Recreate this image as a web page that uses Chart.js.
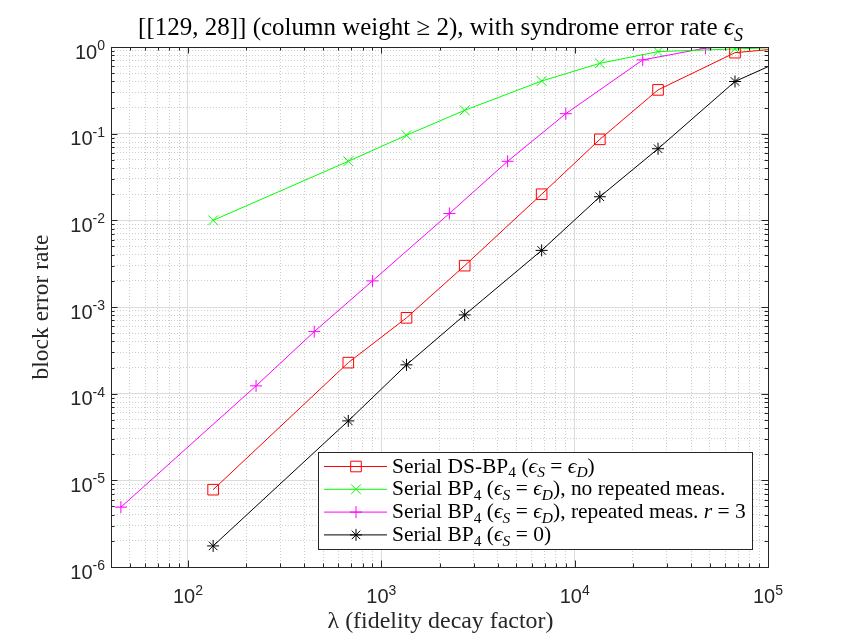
<!DOCTYPE html>
<html>
<head>
<meta charset="utf-8">
<script src="https://cdn.jsdelivr.net/npm/chart.js@4.4.1/dist/chart.umd.min.js"></script>
<style>
  html, body { margin: 0; padding: 0; background: #fff; }
</style>
</head>
<body>
<canvas id="myChart" width="850" height="638"></canvas>
<script>
// lambda values (fidelity decay factor)
var lambdaMain = [135, 675, 1350, 2700, 6750, 13500, 27000, 67500, 135000];
var lambdaRep = [45, 225, 450, 900, 2250, 4500, 9000, 22500, 47500];

// block error rates
var dsBp4 = [7.8e-6, 2.28e-4, 7.5e-4, 3.0e-3, 2.0e-2, 8.6e-2, 0.32, 0.86, 0.99];
var bp4NoRep = [1.0e-2, 4.8e-2, 9.6e-2, 0.186, 0.405, 0.648, 0.885, 0.95, 1.0];
var bp4Rep3 = [4.9e-6, 1.23e-4, 5.2e-4, 2.0e-3, 1.2e-2, 4.8e-2, 0.17, 0.71, 0.97];
var bp4Ideal = [1.75e-6, 4.85e-5, 2.15e-4, 8.1e-4, 4.5e-3, 1.87e-2, 6.7e-2, 0.40, 0.8];

// tick labels (10^n)
var xTickValues = [1e2, 1e3, 1e4, 1e5];
var xTickExps = ['2', '3', '4', '5'];
var yTickValues = [1e-6, 1e-5, 1e-4, 1e-3, 1e-2, 1e-1, 1];
var yTickExps = ['-6', '-5', '-4', '-3', '-2', '-1', '0'];

// rich text pieces: [text, italic, subscript]
var titleText = [['[[129, 28]] (column weight \u2265 2), with syndrome error rate '], ['\u03f5', 1], ['S', 1, 1]];
var legendLabels = [
    [['Serial DS-BP'], ['4', 0, 1], [' ('], ['\u03f5', 1], ['S', 1, 1], [' = '], ['\u03f5', 1], ['D', 1, 1], [')']],
    [['Serial BP'], ['4', 0, 1], [' ('], ['\u03f5', 1], ['S', 1, 1], [' = '], ['\u03f5', 1], ['D', 1, 1], ['), no repeated meas.']],
    [['Serial BP'], ['4', 0, 1], [' ('], ['\u03f5', 1], ['S', 1, 1], [' = '], ['\u03f5', 1], ['D', 1, 1], ['), repeated meas. '], ['r', 1], [' = 3']],
    [['Serial BP'], ['4', 0, 1], [' ('], ['\u03f5', 1], ['S', 1, 1], [' = 0)']]
];
var xLabel = '\u03bb (fidelity decay factor)';
var yLabel = 'block error rate';

var SANS = '"Liberation Sans", Arial, sans-serif';
var SERIF = '"Liberation Serif", "DejaVu Serif", serif';
var AXIS_COLOR = '#262626';

function pts(xs, ys) {
    return xs.map(function (x, i) { return { x: x, y: ys[i] }; });
}

// every 1..9 x 10^n inside the range, for the grid lines
function logGrid(scale) {
    var out = [];
    var lo = Math.floor(Math.log10(scale.min)), hi = Math.ceil(Math.log10(scale.max));
    for (var e = lo; e <= hi; e++) {
        for (var m = 1; m < 10; m++) {
            var v = m * Math.pow(10, e);
            if (v >= scale.min * 0.999 && v <= scale.max * 1.001) out.push({ value: v, major: m === 1 });
        }
    }
    scale.ticks = out;
}

function richFont(seg, size) {
    return (seg[1] ? 'italic ' : '') + (seg[2] ? size * 0.72 : size) + 'px ' + SERIF;
}
function richWidth(c, segs, size) {
    var w = 0;
    segs.forEach(function (s) { c.font = richFont(s, size); w += c.measureText(s[0]).width; });
    return w;
}
function richDraw(c, segs, x, y, size) {
    c.textAlign = 'left';
    c.textBaseline = 'alphabetic';
    segs.forEach(function (s) {
        c.font = richFont(s, size);
        c.fillText(s[0], x, y + (s[2] ? size * 0.22 : 0));
        x += c.measureText(s[0]).width;
    });
}
// font size that makes a plain string a given width
function fitSize(c, text, width) {
    c.font = '20px ' + SERIF;
    return 20 * width / c.measureText(text).width;
}

function drawMarker(c, style, x, y, r) {
    c.beginPath();
    if (style === 'rect') {
        var s = r * Math.SQRT1_2;
        c.rect(x - s, y - s, 2 * s, 2 * s);
    }
    if (style === 'cross' || style === 'star') {
        c.moveTo(x - r, y); c.lineTo(x + r, y);
        c.moveTo(x, y - r); c.lineTo(x, y + r);
    }
    if (style === 'crossRot' || style === 'star') {
        var d = r * Math.SQRT1_2;
        c.moveTo(x - d, y - d); c.lineTo(x + d, y + d);
        c.moveTo(x - d, y + d); c.lineTo(x + d, y - d);
    }
    c.stroke();
}

var matlabAxes = {
    id: 'matlabAxes',
    afterDraw: function (chart) {
        var c = chart.ctx, a = chart.chartArea;
        var xs = chart.scales.x, ys = chart.scales.y;
        c.save();

        // box
        c.strokeStyle = AXIS_COLOR;
        c.lineWidth = 1;
        c.strokeRect(Math.round(a.left) + 0.5, Math.round(a.top) + 0.5,
            Math.round(a.right - a.left), Math.round(a.bottom - a.top));

        // inward ticks on all four sides
        c.beginPath();
        xs.ticks.forEach(function (t) {
            var px = Math.round(xs.getPixelForValue(t.value)) + 0.5, len = t.major ? 6.5 : 3.5;
            c.moveTo(px, a.bottom); c.lineTo(px, a.bottom - len);
            c.moveTo(px, a.top); c.lineTo(px, a.top + len);
        });
        ys.ticks.forEach(function (t) {
            var py = Math.round(ys.getPixelForValue(t.value)) + 0.5, len = t.major ? 6.5 : 3.5;
            c.moveTo(a.left, py); c.lineTo(a.left + len, py);
            c.moveTo(a.right, py); c.lineTo(a.right - len, py);
        });
        c.stroke();

        // tick labels 10^n
        c.fillStyle = AXIS_COLOR;
        c.textBaseline = 'alphabetic';
        var big = '20px ' + SANS, small = '14px ' + SANS;
        xTickValues.forEach(function (v, i) {
            var px = xs.getPixelForValue(v);
            c.font = big; var w1 = c.measureText('10').width;
            c.font = small; var w2 = c.measureText(xTickExps[i]).width;
            var x0 = px - (w1 + w2) / 2;
            c.font = big; c.textAlign = 'left'; c.fillText('10', x0, a.bottom + 36);
            c.font = small; c.fillText(xTickExps[i], x0 + w1, a.bottom + 28);
        });
        yTickValues.forEach(function (v, i) {
            var py = ys.getPixelForValue(v);
            c.font = small; var w2 = c.measureText(yTickExps[i]).width;
            c.textAlign = 'right';
            c.fillText(yTickExps[i], a.left - 6, py + 3);
            c.font = big;
            c.fillText('10', a.left - 6 - w2, py + 11.5);
        });

        // title
        c.fillStyle = '#000';
        var tSize = 20 * 605 / richWidth(c, titleText, 20);
        var cx = (a.left + a.right) / 2;
        richDraw(c, titleText, cx + 1 - richWidth(c, titleText, tSize) / 2, 35, tSize);

        // axis labels
        c.fillStyle = AXIS_COLOR;
        c.textAlign = 'center';
        c.font = fitSize(c, xLabel, 226) + 'px ' + SERIF;
        c.fillText(xLabel, cx + 1, 628);
        c.font = fitSize(c, yLabel, 145) + 'px ' + SERIF;
        c.save();
        c.translate(48, (a.top + a.bottom) / 2);
        c.rotate(-Math.PI / 2);
        c.fillText(yLabel, 0, 0);
        c.restore();

        // legend
        var lx = 318, ly = 452, lw = 434, lh = 97;
        c.fillStyle = '#fff';
        c.fillRect(lx, ly, lw, lh);
        c.strokeStyle = AXIS_COLOR;
        c.strokeRect(lx + 0.5, ly + 0.5, lw, lh);
        var gSize = 18 * 354 / richWidth(c, legendLabels[2], 18);
        chart.data.datasets.forEach(function (ds, i) {
            var ry = 466.5 + i * 22.8;
            c.strokeStyle = ds.borderColor;
            c.lineWidth = 1;
            c.beginPath(); c.moveTo(324, ry); c.lineTo(387, ry); c.stroke();
            drawMarker(c, ds.pointStyle, 356, ry, ds.pointRadius);
            c.fillStyle = '#000';
            richDraw(c, legendLabels[i], 392, ry + 6, gSize);
        });
        c.restore();
    }
};

var ctx = document.getElementById('myChart').getContext('2d');
new Chart(ctx, {
    type: 'line',
    data: {
        datasets: [
            {
                label: 'Serial DS-BP4 (eS = eD)',
                data: pts(lambdaMain, dsBp4),
                borderColor: '#ff0000',
                backgroundColor: 'rgba(0,0,0,0)',
                pointStyle: 'rect',
                pointRadius: 7.5
            },
            {
                label: 'Serial BP4 (eS = eD), no repeated meas.',
                data: pts(lambdaMain, bp4NoRep),
                borderColor: '#00ff00',
                backgroundColor: 'rgba(0,0,0,0)',
                pointStyle: 'crossRot',
                pointRadius: 7
            },
            {
                label: 'Serial BP4 (eS = eD), repeated meas. r = 3',
                data: pts(lambdaRep, bp4Rep3),
                borderColor: '#ff00ff',
                backgroundColor: 'rgba(0,0,0,0)',
                pointStyle: 'cross',
                pointRadius: 6
            },
            {
                label: 'Serial BP4 (eS = 0)',
                data: pts(lambdaMain, bp4Ideal),
                borderColor: '#000000',
                backgroundColor: 'rgba(0,0,0,0)',
                pointStyle: 'star',
                pointRadius: 6
            }
        ]
    },
    options: {
        responsive: false,
        animation: false,
        events: [],
        layout: { padding: { left: 111, right: 82, top: 47, bottom: 71 } },
        elements: {
            line: { borderWidth: 1, tension: 0 },
            point: { borderWidth: 1 }
        },
        plugins: {
            legend: { display: false },
            title: { display: false },
            tooltip: { enabled: false }
        },
        scales: {
            x: {
                type: 'logarithmic',
                min: 40,
                max: 1e5,
                afterBuildTicks: logGrid,
                ticks: { display: false },
                border: {
                    display: false,
                    dash: function (c) { return c.tick && !c.tick.major ? [1, 2] : []; }
                },
                grid: {
                    drawTicks: false,
                    color: function (c) { return c.tick && c.tick.major ? '#dcdcdc' : '#cdcdcd'; }
                }
            },
            y: {
                type: 'logarithmic',
                min: 1e-6,
                max: 1,
                afterBuildTicks: logGrid,
                ticks: { display: false },
                border: {
                    display: false,
                    dash: function (c) { return c.tick && !c.tick.major ? [1, 2] : []; }
                },
                grid: {
                    drawTicks: false,
                    color: function (c) { return c.tick && c.tick.major ? '#dcdcdc' : '#cdcdcd'; }
                }
            }
        }
    },
    plugins: [matlabAxes]
});
</script>
</body>
</html>
